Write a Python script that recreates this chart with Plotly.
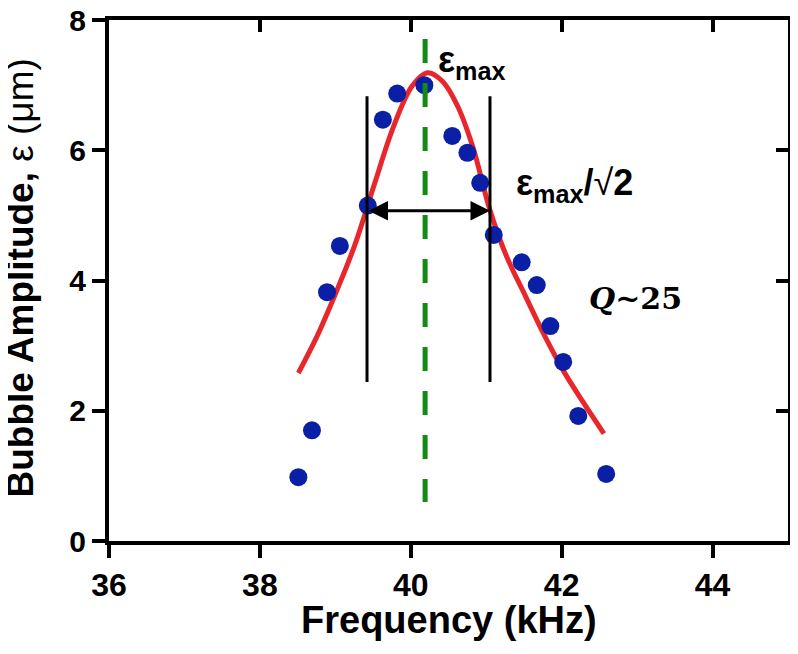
import plotly.graph_objects as go

# measured data points (frequency kHz, amplitude um)
freq = [38.51, 38.69, 38.89, 39.06, 39.43, 39.63, 39.82, 40.18, 40.55,
        40.75, 40.92, 41.10, 41.47, 41.67, 41.85, 42.02, 42.22, 42.59]
amp = [0.98, 1.70, 3.82, 4.53, 5.15, 6.47, 6.87, 7.00, 6.22,
       5.96, 5.50, 4.70, 4.28, 3.93, 3.30, 2.75, 1.92, 1.03]

# fitted resonance curve
fit_x = [38.51, 38.76, 39.01, 39.26, 39.51, 39.77, 40.02, 40.22, 40.42,
         40.62, 40.82, 41.05, 41.27, 41.52, 41.77, 42.02, 42.28, 42.56]
fit_y = [2.58, 3.15, 3.82, 4.55, 5.45, 6.36, 6.99, 7.19, 7.06,
         6.68, 6.06, 5.08, 4.37, 3.76, 3.16, 2.62, 2.14, 1.65]

# annotation geometry (data units)
f_res = 40.19
res_line_y = [0.60, 7.71]
f_half = [39.42, 41.05]
half_line_y = [2.44, 6.83]
arrow_y = 5.07

x_ticks = [36, 38, 40, 42, 44]
y_ticks = [0, 2, 4, 6, 8]
x_range = [36, 45]
y_range = [0, 8]

SANS = "Liberation Sans, Arial, sans-serif"

fig = go.Figure()
fig.add_trace(go.Scatter(x=fit_x, y=fit_y, mode="lines",
                         line=dict(color="#e8262b", width=5, shape="spline", smoothing=1),
                         hoverinfo="skip", showlegend=False))
fig.add_trace(go.Scatter(x=freq, y=amp, mode="markers",
                         marker=dict(color="#0a1fa6", size=18, line=dict(width=0)),
                         showlegend=False))
# dummy trace to activate the mirrored (top/right) axes
fig.add_trace(go.Scatter(x=x_range, y=y_range, mode="lines", xaxis="x2", yaxis="y2",
                         line=dict(width=0), opacity=0, hoverinfo="skip", showlegend=False))

# resonance dashed line
fig.add_shape(type="line", xref="x", yref="y", x0=f_res, x1=f_res,
              y0=res_line_y[1], y1=res_line_y[0],
              line=dict(color="#138a13", width=5, dash="24px,20px"))
# half-power vertical lines
for f in f_half:
    fig.add_shape(type="line", xref="x", yref="y", x0=f, x1=f,
                  y0=half_line_y[0], y1=half_line_y[1],
                  line=dict(color="black", width=3))
# double arrow
fig.add_annotation(x=f_half[1], y=arrow_y, ax=f_half[0], ay=arrow_y,
                   xref="x", yref="y", axref="x", ayref="y", text="",
                   showarrow=True, arrowside="end+start", arrowhead=2,
                   arrowsize=1.3, arrowwidth=3, arrowcolor="black",
                   standoff=0, startstandoff=0)

fig.add_annotation(x=40.33, y=7.36, xref="x", yref="y", xanchor="left", yanchor="middle",
                   text="<b>ε<sub>max</sub></b>", showarrow=False,
                   font=dict(family=SANS, size=36, color="black"))
fig.add_annotation(x=41.37, y=5.47, xref="x", yref="y", xanchor="left", yanchor="middle",
                   text="<b>ε<sub>max</sub>/</b>√<b>2</b>", showarrow=False,
                   font=dict(family=SANS, size=36, color="black"))
fig.add_annotation(x=42.34, y=3.72, xref="x", yref="y", xanchor="left", yanchor="middle",
                   text="<b><i>Q</i>~25</b>", showarrow=False,
                   font=dict(family="DejaVu Serif, serif", size=30, color="black"))

# axis titles
fig.add_annotation(x=0.5, y=0, xref="paper", yref="paper", xanchor="center", yanchor="middle",
                   yshift=-79, text="<b>Frequency (kHz)</b>", showarrow=False,
                   font=dict(family=SANS, size=38, color="black"))
fig.add_annotation(x=0, y=0.5, xref="paper", yref="paper", xanchor="center", yanchor="middle",
                   xshift=-89, yshift=2, textangle=-90,
                   text="<b>Bubble Amplitude,</b> ε (μm)", showarrow=False,
                   font=dict(family=SANS, size=37, color="black"))

tickfont = dict(family=SANS, size=32, color="black", weight="bold")
fig.update_layout(
    width=790, height=646,
    margin=dict(l=101, r=10, t=12, b=113),
    paper_bgcolor="white", plot_bgcolor="white",
    xaxis=dict(range=x_range, tickvals=x_ticks, showgrid=False, zeroline=False,
               showline=True, linewidth=4, linecolor="black", automargin=False,
               ticks="outside", ticklen=13, tickwidth=4, tickcolor="black",
               tickfont=tickfont, ticklabeloverflow="allow"),
    yaxis=dict(range=y_range, tickvals=y_ticks, showgrid=False, zeroline=False,
               showline=True, linewidth=4, linecolor="black", automargin=False,
               ticks="outside", ticklen=13, tickwidth=4, tickcolor="black",
               tickfont=dict(family=SANS, size=30, color="black", weight="bold"),
               ticklabeloverflow="allow"),
    xaxis2=dict(range=x_range, tickvals=x_ticks, overlaying="x", side="top",
                showgrid=False, zeroline=False, showline=True, linewidth=4,
                linecolor="black", ticks="inside", ticklen=12, tickwidth=4,
                tickcolor="black", showticklabels=False, automargin=False),
    yaxis2=dict(range=y_range, tickvals=y_ticks, overlaying="y", side="right",
                showgrid=False, zeroline=False, showline=True, linewidth=4,
                linecolor="black", ticks="inside", ticklen=12, tickwidth=4,
                tickcolor="black", showticklabels=False, automargin=False),
)

fig.write_html("out.html")
